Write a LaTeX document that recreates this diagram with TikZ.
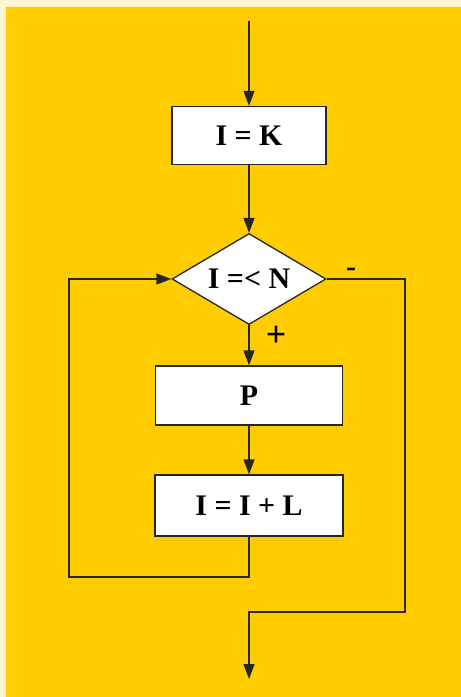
\documentclass[tikz,border=0pt]{standalone}
\usepackage{fontspec}
\setmainfont{Liberation Serif}
\usepackage{xcolor}
\usetikzlibrary{shapes.geometric,arrows.meta}

\begin{document}
\begin{tikzpicture}[x=1bp,y=-1bp,
  mybox/.style={draw=black!85,line width=1.3bp,fill=white,inner sep=0,
    font=\bfseries\fontsize{30}{36}\selectfont},
  mydiamond/.style={diamond,draw=black!85,line width=1.3bp,fill=white,inner sep=0,
    aspect=1.7,minimum width=154bp,minimum height=91bp,font=\bfseries\fontsize{30}{36}\selectfont},
  myline/.style={line width=1.3bp,draw=black!85,-{Triangle[length=15bp,width=11bp]}}]
\definecolor{paper}{HTML}{FFF5D3}
\definecolor{marigold}{HTML}{FFCC00}
\fill[paper] (0,0) rectangle (461,697);
\fill[marigold] (6,7) rectangle (461,697);
\useasboundingbox (0,0) rectangle (461,697);
\coordinate (start) at (249,21);
\node [mybox,minimum width=154bp,minimum height=58bp] (init) at (249,135.5) {I = K};
\node [mydiamond] (test) at (249,279) {I =< N};
\node [mybox,minimum width=187bp,minimum height=59bp] (body) at (249,395.5) {P};
\node [mybox,minimum width=188bp,minimum height=61bp] (incr) at (249,505.5) {I = I + L};
\coordinate (loopL) at (69,577);
\coordinate (exitR) at (405,612);
\coordinate (stop) at (249,679);
  \foreach \from/\to in {start/init,init/test,test/body,body/incr}
  {  \draw [myline] (\from) -- (\to);}
\draw [myline] (incr.south) |- (loopL) |- (test.west);
\draw [myline] (test.east) -| (exitR) -| (stop);
\node [font=\bfseries\fontsize{30}{36}\selectfont] (no) at (351,272) {-};
\node [font=\bfseries\fontsize{36}{40}\selectfont] (yes) at (276,336) {+};
\end{tikzpicture}
\end{document}
